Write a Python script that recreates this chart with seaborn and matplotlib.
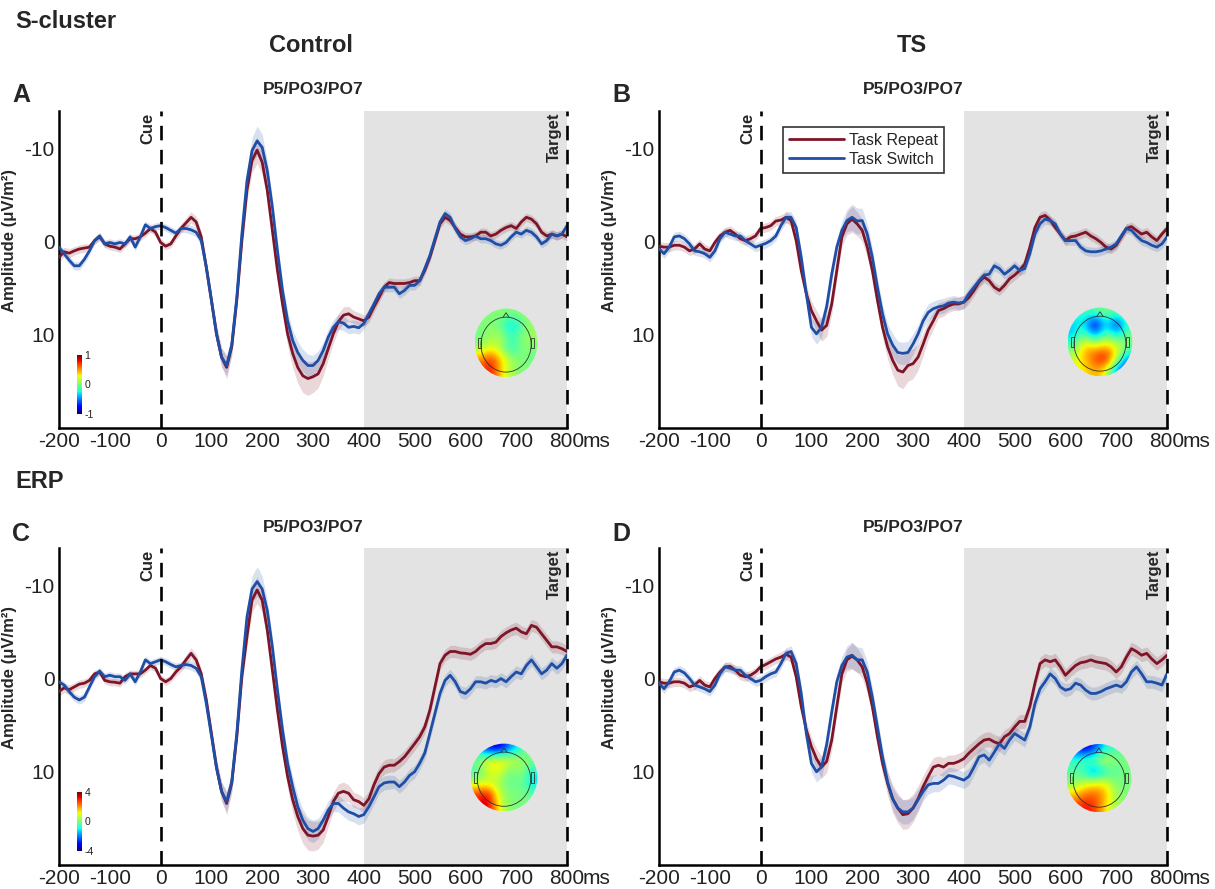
import numpy as np
import pandas as pd
import matplotlib
matplotlib.use("Agg")
import matplotlib.pyplot as plt
import seaborn as sns
from matplotlib.patches import Ellipse, Circle, Polygon, Rectangle
from matplotlib.lines import Line2D
import matplotlib.colors as mcolors
import matplotlib.cm as cm

# ---------------- data ----------------
time_ms = np.arange(-200, 801, 10)
conditions = ["Task Repeat", "Task Switch"]
x_ticks = [-200, -100, 0, 100, 200, 300, 400, 500, 600, 700, 800]
y_ticks = [-10, 0, 10]

a_repeat = [1.7, 1.1, 1.25, 1.0, 0.8, 0.7, 0.6, -0.1, -0.5, 0.25,
            0.5, 0.6, 0.8, 0.25, -0.3, -0.3, -0.5, -0.9, -1.4, -1.0,
            0.1, 0.5, 0.25, -0.6, -1.4, -2.0, -2.6, -2.1, -0.5, 2.8,
            6.3, 9.9, 12.4, 13.5, 11.3, 6.3, -0.1, -5.5, -8.7, -9.8,
            -8.5, -5.5, -1.2, 3.1, 6.7, 9.9, 12.0, 13.5, 14.4, 14.7,
            14.5, 14.2, 13.1, 11.5, 9.9, 8.6, 7.9, 7.75, 8.1, 8.3,
            8.5, 8.1, 7.0, 6.0, 4.9, 4.4, 4.5, 4.5, 4.5, 4.4,
            4.2, 4.2, 3.1, 1.7, -0.1, -1.9, -2.6, -2.25, -1.5, -0.8,
            -0.5, -0.5, -0.6, -1.0, -1.0, -0.6, -0.8, -1.2, -1.5, -1.7,
            -1.4, -2.1, -2.6, -2.4, -1.9, -1.0, -0.6, -0.8, -0.6, -0.8,
            -0.5]
a_switch = [0.6, 1.3, 2.0, 2.6, 2.6, 1.9, 1.0, -0.1, -0.6, 0.25,
            0.1, 0.25, 0.1, 0.25, -0.5, 0.6, -0.5, -1.8, -1.4, -1.6,
            -1.7, -1.5, -1.2, -0.9, -1.4, -1.4, -1.25, -1.0, -0.1, 2.75,
            6.3, 9.9, 12.4, 13.3, 11.1, 6.0, -0.8, -6.5, -9.75, -10.8,
            -10.1, -7.6, -3.7, 1.0, 5.25, 8.5, 10.6, 11.9, 12.75, 13.3,
            13.3, 12.75, 11.7, 10.25, 9.2, 8.6, 8.75, 9.2, 9.1, 9.25,
            8.8, 7.75, 6.7, 5.6, 4.9, 4.9, 4.9, 5.6, 5.25, 4.7,
            4.7, 4.2, 2.9, 1.5, -0.3, -2.1, -3.0, -2.6, -1.4, -0.5,
            -0.1, -0.3, -0.6, -0.3, -0.3, -0.1, 0.25, 0.4, 0.1, -0.5,
            -1.0, -0.8, -1.2, -1.0, -0.5, 0.25, -0.1, -0.8, -0.6, -0.8,
            -1.7]
b_repeat = [0.5, 0.6, 0.6, 0.4, 0.4, 0.6, 1.0, 0.8, 0.25, 0.8,
            1.0, 0.1, -0.6, -1.0, -1.2, -0.8, -0.3, -0.1, -0.3, -0.6,
            -1.4, -1.5, -1.7, -2.2, -2.3, -2.6, -2.25, -0.1, 3.1, 5.6,
            7.4, 8.5, 9.5, 9.0, 6.7, 3.1, -0.5, -1.9, -2.4, -1.9,
            -1.2, 0.6, 3.1, 6.3, 9.2, 11.3, 12.75, 13.8, 14.0, 13.3,
            13.1, 12.4, 11.0, 9.5, 8.5, 7.4, 7.2, 6.9, 6.7, 6.7,
            6.5, 6.0, 5.25, 4.35, 3.8, 4.2, 4.9, 5.25, 4.7, 4.0,
            3.6, 3.1, 2.4, 0.6, -1.5, -2.6, -2.8, -2.3, -1.5, -0.8,
            -0.1, -0.5, -0.6, -0.8, -1.0, -0.6, -0.3, 0.1, 0.6, 0.8,
            0.4, -0.5, -1.4, -1.6, -1.2, -0.8, -1.0, -0.5, -0.1, -0.8,
            -1.4]
b_switch = [0.8, 1.3, 0.6, -0.5, -0.6, -0.3, 0.25, 1.0, 1.1, 1.3,
            1.7, 1.0, -0.3, -1.0, -0.8, -0.6, -0.6, -0.1, 0.25, 0.6,
            0.4, 0.2, -0.1, -0.6, -1.7, -2.6, -2.6, -1.5, 1.7, 5.6,
            9.2, 9.9, 9.2, 7.0, 3.5, 0.6, -1.2, -2.25, -2.6, -2.2,
            -2.25, -0.8, 1.7, 4.9, 7.75, 9.9, 11.1, 11.9, 12.0, 11.9,
            11.0, 9.9, 8.5, 7.6, 7.2, 7.0, 6.9, 6.6, 6.5, 6.6,
            6.5, 5.6, 4.9, 4.2, 3.6, 3.5, 2.6, 2.9, 3.5, 3.1,
            2.6, 3.1, 2.9, 1.3, -0.8, -1.9, -2.4, -2.25, -1.9, -0.8,
            -0.1, -0.1, -0.1, 0.6, 1.0, 1.1, 1.1, 1.0, 0.8, 0.6,
            0.25, -0.6, -1.4, -1.2, -0.6, -0.1, 0.1, 0.4, 0.6, 0.25,
            -0.5]
c_repeat = [1.4, 1.0, 1.2, 0.9, 0.6, 0.5, 0.2, -0.5, -0.7, 0.2,
            0.35, 0.4, 0.5, -0.2, -0.5, -0.5, -0.5, -0.9, -1.4, -1.1,
            0.0, 0.35, 0.0, -0.7, -1.25, -2.0, -2.7, -2.0, -0.5, 2.3,
            5.9, 9.5, 12.1, 13.4, 11.25, 6.25, -0.2, -4.5, -8.4, -9.5,
            -8.4, -5.2, -0.9, 3.4, 7.3, 10.5, 13.0, 14.8, 16.1, 16.8,
            16.9, 16.8, 16.25, 14.8, 13.2, 12.3, 12.1, 12.3, 13.0, 13.2,
            13.6, 12.9, 11.4, 10.2, 9.5, 9.3, 9.3, 8.9, 8.4, 7.7,
            7.0, 6.25, 5.2, 3.4, 0.9, -1.6, -2.5, -2.9, -2.9, -2.75,
            -2.7, -2.6, -2.9, -3.4, -3.75, -3.75, -3.9, -4.5, -4.9, -5.2,
            -5.4, -5.0, -4.8, -5.7, -5.5, -4.8, -4.1, -3.4, -3.4, -3.2,
            -2.9]
c_switch = [0.35, 0.7, 1.4, 2.0, 2.3, 2.0, 0.9, -0.2, -0.8, -0.2,
            -0.35, -0.2, -0.2, 0.2, -0.5, 0.35, -0.7, -2.0, -1.6, -1.8,
            -2.0, -1.8, -1.5, -1.25, -1.4, -1.5, -1.4, -1.1, -0.2, 2.7,
            6.1, 9.6, 12.1, 13.2, 11.1, 5.9, -0.9, -6.6, -9.6, -10.4,
            -9.6, -7.3, -3.4, 1.25, 5.5, 9.1, 11.6, 13.75, 15.2, 16.1,
            16.4, 16.1, 15.2, 14.1, 13.4, 13.4, 13.9, 14.3, 14.5, 14.8,
            14.6, 13.75, 12.7, 11.6, 11.2, 11.1, 11.1, 11.6, 11.1, 10.4,
            10.0, 9.1, 8.0, 5.9, 3.75, 1.6, 0.2, -0.35, 0.35, 1.4,
            1.6, 1.1, 0.35, 0.35, 0.5, 0.2, 0.35, 0.0, 0.35, -0.2,
            -0.7, -0.5, -1.4, -2.0, -1.25, -0.5, -0.9, -1.6, -1.1, -1.6,
            -2.5]
d_repeat = [0.35, 0.5, 0.5, 0.35, 0.35, 0.5, 0.9, 0.7, 0.2, 0.7,
            0.9, 0.0, -0.7, -1.25, -1.3, -0.9, -0.35, -0.2, -0.35, -0.7,
            -1.25, -1.5, -1.8, -2.1, -2.3, -2.6, -2.3, -0.2, 3.0, 5.5,
            7.3, 8.6, 9.5, 8.9, 6.6, 3.0, -0.5, -2.0, -2.4, -2.0,
            -1.25, 0.5, 3.0, 6.25, 9.1, 11.25, 12.9, 13.9, 14.6, 14.5,
            13.9, 12.9, 11.6, 10.5, 9.5, 9.3, 9.5, 9.1, 9.1, 8.9,
            8.6, 8.0, 7.5, 7.0, 6.6, 6.5, 6.8, 7.0, 6.25, 5.9,
            5.2, 4.6, 4.6, 3.0, 0.5, -1.6, -2.0, -1.8, -2.0, -1.25,
            -0.35, -0.9, -1.4, -1.7, -1.8, -2.0, -1.8, -1.7, -1.6, -1.25,
            -0.7, -1.25, -2.3, -3.2, -2.9, -2.5, -2.7, -2.1, -1.6, -2.0,
            -2.5]
d_switch = [0.5, 1.1, 0.35, -0.7, -0.9, -0.6, 0.0, 0.7, 0.9, 1.1,
            1.4, 0.7, -0.5, -1.25, -1.1, -0.9, -0.9, -0.35, 0.0, 0.35,
            0.2, -0.2, -0.5, -0.7, -1.6, -2.7, -2.9, -1.6, 1.6, 5.9,
            9.1, 10.0, 9.5, 7.1, 3.6, 0.35, -1.4, -2.3, -2.5, -2.0,
            -2.0, -0.7, 2.0, 5.2, 8.4, 11.1, 12.9, 13.9, 14.3, 14.3,
            13.9, 13.0, 12.1, 11.4, 11.25, 11.25, 10.9, 10.4, 10.5, 10.7,
            10.9, 10.5, 9.5, 8.4, 8.2, 8.75, 7.9, 7.0, 7.5, 6.6,
            5.9, 6.25, 6.6, 5.2, 2.7, 1.1, 0.35, -0.5, 0.0, 0.9,
            1.25, 1.1, 0.5, 0.7, 1.25, 1.6, 1.6, 1.4, 1.1, 0.9,
            0.7, 0.9, 0.35, -0.7, -1.25, -0.5, 0.35, 0.35, 0.5, 0.7,
            -0.5]

# standard-error half widths of the shaded bands
a_repeat_sem = [0.5, 0.5, 0.5, 0.45, 0.45, 0.45, 0.4, 0.4, 0.4, 0.4,
                0.4, 0.4, 0.4, 0.4, 0.4, 0.4, 0.4, 0.4, 0.4, 0.4,
                0.4, 0.4, 0.4, 0.45, 0.5, 0.55, 0.6, 0.6, 0.6, 0.7,
                0.8, 0.9, 1.0, 1.2, 1.0, 0.9, 0.9, 1.1, 1.3, 1.4,
                1.3, 1.1, 1.0, 1.0, 1.1, 1.3, 1.5, 1.7, 1.8, 1.8,
                1.7, 1.5, 1.3, 1.1, 1.0, 0.9, 0.9, 0.8, 0.7, 0.7,
                0.6, 0.6, 0.6, 0.55, 0.55, 0.5, 0.5, 0.5, 0.5, 0.5,
                0.5, 0.5, 0.5, 0.5, 0.5, 0.5, 0.5, 0.5, 0.5, 0.5,
                0.45, 0.45, 0.45, 0.45, 0.45, 0.45, 0.45, 0.45, 0.45, 0.45,
                0.45, 0.45, 0.45, 0.45, 0.45, 0.45, 0.45, 0.45, 0.45, 0.45,
                0.45]
a_switch_sem = [0.4, 0.4, 0.45, 0.45, 0.45, 0.45, 0.4, 0.4, 0.4, 0.4,
                0.4, 0.4, 0.4, 0.4, 0.4, 0.4, 0.4, 0.4, 0.4, 0.4,
                0.4, 0.4, 0.4, 0.4, 0.4, 0.45, 0.5, 0.5, 0.6, 0.7,
                0.8, 0.9, 1.0, 1.1, 1.0, 0.9, 0.9, 1.1, 1.4, 1.6,
                1.4, 1.1, 1.0, 0.9, 0.9, 1.0, 1.1, 1.2, 1.2, 1.2,
                1.1, 1.0, 0.9, 0.9, 0.8, 0.8, 0.8, 0.7, 0.7, 0.7,
                0.6, 0.6, 0.55, 0.55, 0.5, 0.5, 0.5, 0.5, 0.5, 0.5,
                0.5, 0.5, 0.5, 0.5, 0.5, 0.5, 0.5, 0.5, 0.5, 0.5,
                0.45, 0.45, 0.45, 0.45, 0.45, 0.45, 0.45, 0.45, 0.45, 0.45,
                0.45, 0.45, 0.45, 0.45, 0.45, 0.45, 0.45, 0.45, 0.45, 0.45,
                0.45]
b_repeat_sem = [0.5, 0.5, 0.5, 0.5, 0.5, 0.5, 0.5, 0.5, 0.5, 0.5,
                0.5, 0.5, 0.5, 0.5, 0.5, 0.5, 0.5, 0.5, 0.5, 0.5,
                0.5, 0.5, 0.5, 0.5, 0.55, 0.6, 0.6, 0.7, 0.8, 0.9,
                1.0, 1.1, 1.2, 1.2, 1.1, 1.0, 1.0, 1.2, 1.4, 1.3,
                1.2, 1.1, 1.0, 1.0, 1.1, 1.3, 1.5, 1.7, 1.8, 1.7,
                1.6, 1.4, 1.2, 1.0, 0.9, 0.8, 0.8, 0.7, 0.7, 0.7,
                0.7, 0.65, 0.6, 0.6, 0.6, 0.55, 0.55, 0.55, 0.55, 0.55,
                0.55, 0.55, 0.55, 0.55, 0.55, 0.55, 0.55, 0.5, 0.5, 0.5,
                0.5, 0.5, 0.5, 0.5, 0.5, 0.5, 0.5, 0.5, 0.5, 0.5,
                0.5, 0.5, 0.5, 0.5, 0.5, 0.5, 0.5, 0.5, 0.5, 0.5,
                0.5]
b_switch_sem = [0.5, 0.5, 0.5, 0.5, 0.5, 0.5, 0.5, 0.5, 0.5, 0.5,
                0.5, 0.5, 0.5, 0.5, 0.5, 0.5, 0.5, 0.5, 0.5, 0.5,
                0.5, 0.5, 0.5, 0.5, 0.55, 0.6, 0.6, 0.7, 0.8, 0.9,
                1.0, 1.1, 1.1, 1.0, 0.9, 0.9, 1.0, 1.2, 1.4, 1.4,
                1.3, 1.1, 1.0, 1.0, 1.0, 1.1, 1.2, 1.2, 1.2, 1.2,
                1.1, 1.0, 0.9, 0.9, 0.8, 0.8, 0.8, 0.7, 0.7, 0.7,
                0.7, 0.65, 0.6, 0.6, 0.6, 0.55, 0.55, 0.55, 0.55, 0.55,
                0.55, 0.55, 0.55, 0.55, 0.55, 0.55, 0.55, 0.5, 0.5, 0.5,
                0.5, 0.5, 0.5, 0.5, 0.5, 0.5, 0.5, 0.5, 0.5, 0.5,
                0.5, 0.5, 0.5, 0.5, 0.5, 0.5, 0.5, 0.5, 0.5, 0.5,
                0.5]
c_repeat_sem = [0.5, 0.5, 0.5, 0.45, 0.45, 0.45, 0.4, 0.4, 0.4, 0.4,
                0.4, 0.4, 0.4, 0.4, 0.4, 0.4, 0.4, 0.4, 0.4, 0.4,
                0.4, 0.4, 0.4, 0.45, 0.5, 0.55, 0.6, 0.6, 0.6, 0.7,
                0.8, 0.9, 1.0, 1.2, 1.0, 0.9, 0.9, 1.1, 1.3, 1.4,
                1.3, 1.1, 1.0, 1.0, 1.1, 1.3, 1.4, 1.5, 1.6, 1.6,
                1.6, 1.5, 1.3, 1.1, 1.0, 1.0, 1.0, 0.9, 0.8, 0.8,
                0.8, 0.8, 0.8, 0.75, 0.75, 0.75, 0.7, 0.7, 0.7, 0.7,
                0.7, 0.7, 0.7, 0.7, 0.7, 0.65, 0.65, 0.65, 0.65, 0.65,
                0.65, 0.65, 0.65, 0.65, 0.65, 0.65, 0.65, 0.65, 0.65, 0.65,
                0.65, 0.65, 0.65, 0.65, 0.65, 0.65, 0.65, 0.65, 0.65, 0.65,
                0.6]
c_switch_sem = [0.4, 0.4, 0.45, 0.45, 0.45, 0.45, 0.4, 0.4, 0.4, 0.4,
                0.4, 0.4, 0.4, 0.4, 0.4, 0.4, 0.4, 0.4, 0.4, 0.4,
                0.4, 0.4, 0.4, 0.4, 0.4, 0.45, 0.5, 0.5, 0.6, 0.7,
                0.8, 0.9, 1.0, 1.1, 1.0, 0.9, 0.9, 1.1, 1.4, 1.6,
                1.4, 1.1, 1.0, 0.9, 0.9, 1.0, 1.1, 1.2, 1.2, 1.2,
                1.2, 1.1, 1.0, 1.0, 0.9, 0.9, 0.9, 0.9, 0.9, 0.9,
                0.9, 0.8, 0.8, 0.75, 0.75, 0.75, 0.7, 0.7, 0.7, 0.7,
                0.7, 0.7, 0.7, 0.7, 0.7, 0.65, 0.65, 0.65, 0.65, 0.65,
                0.65, 0.65, 0.65, 0.65, 0.65, 0.65, 0.65, 0.65, 0.65, 0.65,
                0.65, 0.65, 0.65, 0.65, 0.65, 0.65, 0.65, 0.65, 0.65, 0.65,
                0.6]
d_repeat_sem = [0.5, 0.5, 0.5, 0.5, 0.5, 0.5, 0.5, 0.5, 0.5, 0.5,
                0.5, 0.5, 0.5, 0.5, 0.5, 0.5, 0.5, 0.5, 0.5, 0.5,
                0.5, 0.5, 0.5, 0.5, 0.55, 0.6, 0.6, 0.7, 0.8, 0.9,
                1.0, 1.1, 1.2, 1.2, 1.1, 1.0, 1.0, 1.2, 1.4, 1.3,
                1.2, 1.1, 1.0, 1.0, 1.1, 1.3, 1.5, 1.6, 1.6, 1.6,
                1.5, 1.4, 1.2, 1.1, 1.0, 1.0, 1.0, 0.9, 0.9, 0.9,
                0.9, 0.9, 0.85, 0.85, 0.8, 0.8, 0.8, 0.8, 0.75, 0.75,
                0.75, 0.75, 0.75, 0.75, 0.75, 0.7, 0.7, 0.7, 0.7, 0.7,
                0.7, 0.7, 0.7, 0.7, 0.7, 0.7, 0.7, 0.7, 0.7, 0.7,
                0.7, 0.7, 0.7, 0.7, 0.7, 0.7, 0.7, 0.7, 0.7, 0.7,
                0.65]
d_switch_sem = [0.5, 0.5, 0.5, 0.5, 0.5, 0.5, 0.5, 0.5, 0.5, 0.5,
                0.5, 0.5, 0.5, 0.5, 0.5, 0.5, 0.5, 0.5, 0.5, 0.5,
                0.5, 0.5, 0.5, 0.5, 0.55, 0.6, 0.6, 0.7, 0.8, 0.9,
                1.0, 1.1, 1.1, 1.0, 0.9, 0.9, 1.0, 1.2, 1.4, 1.4,
                1.3, 1.1, 1.0, 1.0, 1.0, 1.1, 1.2, 1.3, 1.3, 1.3,
                1.2, 1.1, 1.0, 1.0, 0.9, 0.9, 0.9, 0.9, 0.9, 0.9,
                0.9, 0.9, 0.85, 0.85, 0.8, 0.8, 0.8, 0.8, 0.75, 0.75,
                0.75, 0.75, 0.75, 0.75, 0.75, 0.7, 0.7, 0.7, 0.7, 0.7,
                0.7, 0.7, 0.7, 0.7, 0.7, 0.7, 0.7, 0.7, 0.7, 0.7,
                0.7, 0.7, 0.7, 0.7, 0.7, 0.7, 0.7, 0.7, 0.7, 0.7,
                0.65]

# topography grids (rows: front -> back, cols: left -> right), normalised -1..1
topo_a = [[0.0, 0.0, 0.05, 0.0, 0.05, 0.1],
          [0.0, 0.05, -0.1, -0.45, -0.1, 0.1],
          [-0.05, 0.1, 0.15, -0.2, 0.05, 0.1],
          [0.1, 0.3, 0.1, -0.3, 0.05, 0.0],
          [0.6, 0.9, 0.45, 0.1, 0.0, -0.05],
          [0.75, 0.95, 0.4, 0.1, 0.0, 0.0]]
topo_b = [[-0.25, -0.2, -0.1, 0.0, -0.1, 0.0],
          [-0.4, -0.3, -1.1, -0.3, -0.9, -0.2],
          [-0.4, 0.0, -0.5, 0.0, -0.3, 0.0],
          [-0.1, 0.55, 0.45, 0.55, 0.35, 0.0],
          [0.2, 0.45, 0.8, 1.0, 0.2, -0.6],
          [0.3, 0.35, 0.55, 0.3, -0.6, -0.9]]
topo_c = [[-0.4, -0.9, -1.0, -0.6, -0.2, 0.0],
          [0.0, 0.3, 0.4, 0.3, 0.1, 0.0],
          [-0.2, 0.25, 0.35, -0.1, 0.1, -0.3],
          [0.15, 0.2, 0.1, -0.1, 0.0, -0.4],
          [0.8, 1.0, 0.2, 0.0, 0.0, -0.1],
          [0.9, 1.1, 0.3, 0.0, 0.0, 0.0]]
topo_d = [[-0.7, -1.0, -0.8, -0.3, -0.2, 0.0],
          [-0.2, -0.1, 0.0, 0.3, 0.0, 0.0],
          [-0.1, -0.2, -0.7, -0.3, -0.1, 0.0],
          [0.0, 0.2, 0.35, 0.35, 0.0, 0.0],
          [0.45, 0.65, 0.75, 0.55, 0.1, 0.0],
          [0.7, 0.95, 0.85, 0.4, 0.1, 0.0]]
colorbar_a_labels = ["1", "0", "-1"]
colorbar_c_labels = ["4", "0", "-4"]

# ---------------- style ----------------
sns.set_theme(style="white")
plt.rcParams["font.family"] = ["Liberation Sans", "DejaVu Sans"]
plt.rcParams["axes.unicode_minus"] = False

RED = "#7d1428"
BLUE = "#1f4ea6"
palette = {"Task Repeat": RED, "Task Switch": BLUE}
GRAY = "#e3e3e3"

fig = plt.figure(figsize=(12.15, 8.89), dpi=100)
W, H = 1215, 889


def fig_axes(left_px, top_px, w_px=508, h_px=317):
    return fig.add_axes([left_px / W, 1 - (top_px + h_px) / H, w_px / W, h_px / H])


def draw_topo(ax, grid, rect):
    tax = ax.inset_axes(rect)
    tax.set_xlim(-1.02, 1.02)
    tax.set_ylim(-1.02, 1.02)
    tax.axis("off")
    im = tax.imshow(np.array(grid), extent=(-1, 1, -1, 1), cmap="jet",
                    vmin=-1.15, vmax=1.15, interpolation="bicubic", origin="upper",
                    aspect="auto", zorder=1)
    clip = Ellipse((0, 0), 2.0, 2.0, transform=tax.transData)
    im.set_clip_path(clip)
    lc = "#333333"
    tax.add_patch(Circle((0, -0.05), 0.8, fill=False, ec=lc, lw=0.6, zorder=3))
    tax.add_patch(Polygon([[-0.1, 0.74], [0.0, 0.88], [0.1, 0.74]], closed=False,
                          fill=False, ec=lc, lw=0.6, zorder=3))
    tax.add_patch(Rectangle((-0.9, -0.15), 0.1, 0.3, fill=False, ec=lc, lw=0.6, zorder=3))
    tax.add_patch(Rectangle((0.8, -0.15), 0.1, 0.3, fill=False, ec=lc, lw=0.6, zorder=3))


def draw_colorbar(ax, labels):
    cax = ax.inset_axes([0.035, 0.045, 0.011, 0.185])
    sm = cm.ScalarMappable(norm=mcolors.Normalize(-1, 1), cmap="jet")
    cb = fig.colorbar(sm, cax=cax, ticks=[1, 0, -1])
    cb.outline.set_visible(False)
    cb.ax.set_yticklabels(labels)
    cb.ax.tick_params(length=0, labelsize=7.5, pad=1.5, colors="#222222")


def draw_panel(ax, rep, sw, rep_sem, sw_sem, legend=False):
    ax.axvspan(400, 800, color=GRAY, lw=0, zorder=0)
    df = pd.DataFrame({
        "time": np.concatenate([time_ms, time_ms]),
        "amp": np.concatenate([rep, sw]),
        "condition": [conditions[0]] * len(time_ms) + [conditions[1]] * len(time_ms),
    })
    for cond, m, s in [(conditions[0], rep, rep_sem), (conditions[1], sw, sw_sem)]:
        m = np.asarray(m)
        s = np.asarray(s)
        ax.fill_between(time_ms, m - s, m + s, color=palette[cond], alpha=0.17, lw=0, zorder=1)
    sns.lineplot(data=df, x="time", y="amp", hue="condition", palette=palette,
                 hue_order=conditions, ax=ax, legend=False, lw=2.0, zorder=3)
    for xv in (0, 800):
        ax.axvline(xv, color="black", ls=(0, (5.5, 3.6)), lw=1.9, zorder=4, clip_on=False)
    ax.set_xlim(-200, 800)
    ax.set_ylim(20, -14)
    ax.set_xticks(x_ticks)
    ax.set_xticklabels([str(t) for t in x_ticks])
    ax.set_yticks(y_ticks)
    ax.set_yticklabels([str(t) for t in y_ticks])
    ax.tick_params(direction="in", length=5, width=1.4, labelsize=15, colors="black",
                   labelcolor="#222222", pad=3)
    for sp in ("top", "right"):
        ax.spines[sp].set_visible(False)
    for sp in ("left", "bottom"):
        ax.spines[sp].set_linewidth(1.8)
        ax.spines[sp].set_color("black")
    ax.set_xlabel("")
    ax.set_ylabel("Amplitude (\u03bcV/m\u00b2)", fontsize=12, fontweight="bold")
    ax.yaxis.set_label_coords(-0.083, 0.593)
    ax.annotate("ms", xy=(800, 0), xycoords=("data", "axes fraction"), xytext=(11.5, -3),
                textcoords="offset points", ha="left", va="top", fontsize=15, color="#222222")
    ax.annotate("Cue", xy=(0, 1), xycoords=("data", "axes fraction"), xytext=(-4, -1),
                textcoords="offset points", ha="right", va="top", rotation=90,
                fontsize=12, fontweight="bold")
    ax.annotate("Target", xy=(800, 1), xycoords=("data", "axes fraction"), xytext=(-4, -1),
                textcoords="offset points", ha="right", va="top", rotation=90,
                fontsize=12, fontweight="bold")
    if legend:
        handles = [Line2D([0], [0], color=RED, lw=2.0), Line2D([0], [0], color=BLUE, lw=2.0)]
        leg = ax.legend(handles, conditions, loc="upper left", bbox_to_anchor=(0.244, 0.948),
                        borderaxespad=0, fontsize=11.5, frameon=True, fancybox=False,
                        handlelength=3.5, handletextpad=0.3, borderpad=0.35, labelspacing=0.25)
        leg.get_frame().set_edgecolor("black")
        leg.get_frame().set_linewidth(1.2)
        leg.set_zorder(6)


ax_a = fig_axes(59, 111)
ax_b = fig_axes(659, 111)
ax_c = fig_axes(59, 548)
ax_d = fig_axes(659, 548)

draw_panel(ax_a, a_repeat, a_switch, a_repeat_sem, a_switch_sem)
draw_panel(ax_b, b_repeat, b_switch, b_repeat_sem, b_switch_sem, legend=True)
draw_panel(ax_c, c_repeat, c_switch, c_repeat_sem, c_switch_sem)
draw_panel(ax_d, d_repeat, d_switch, d_repeat_sem, d_switch_sem)

draw_topo(ax_a, topo_a, [0.817, 0.158, 0.126, 0.221])
draw_topo(ax_b, topo_b, [0.803, 0.161, 0.130, 0.221])
draw_topo(ax_c, topo_c, [0.809, 0.167, 0.134, 0.218])
draw_topo(ax_d, topo_d, [0.801, 0.164, 0.130, 0.220])

draw_colorbar(ax_a, colorbar_a_labels)
draw_colorbar(ax_c, colorbar_c_labels)

# ---------------- headings ----------------
fig.text(15 / W, 1 - 21 / H, "S-cluster", fontsize=17, fontweight="bold", ha="left", va="center")
fig.text(311 / W, 1 - 45 / H, "Control", fontsize=17, fontweight="bold", ha="center", va="center")
fig.text(912 / W, 1 - 45 / H, "TS", fontsize=17, fontweight="bold", ha="center", va="center")
fig.text(15 / W, 1 - 482 / H, "ERP", fontsize=17, fontweight="bold", ha="left", va="center")
for lab, xp, yp in [("A", 12, 95), ("B", 612, 95), ("C", 12, 534), ("D", 612, 534)]:
    fig.text(xp / W, 1 - yp / H, lab, fontsize=18, fontweight="bold", ha="left", va="center")
for xp, yp in [(313, 89), (913, 89), (313, 527), (913, 527)]:
    fig.text(xp / W, 1 - yp / H, "P5/PO3/PO7", fontsize=12.5, fontweight="bold",
             ha="center", va="center")

fig.savefig("out.png", dpi=100, facecolor="white")
